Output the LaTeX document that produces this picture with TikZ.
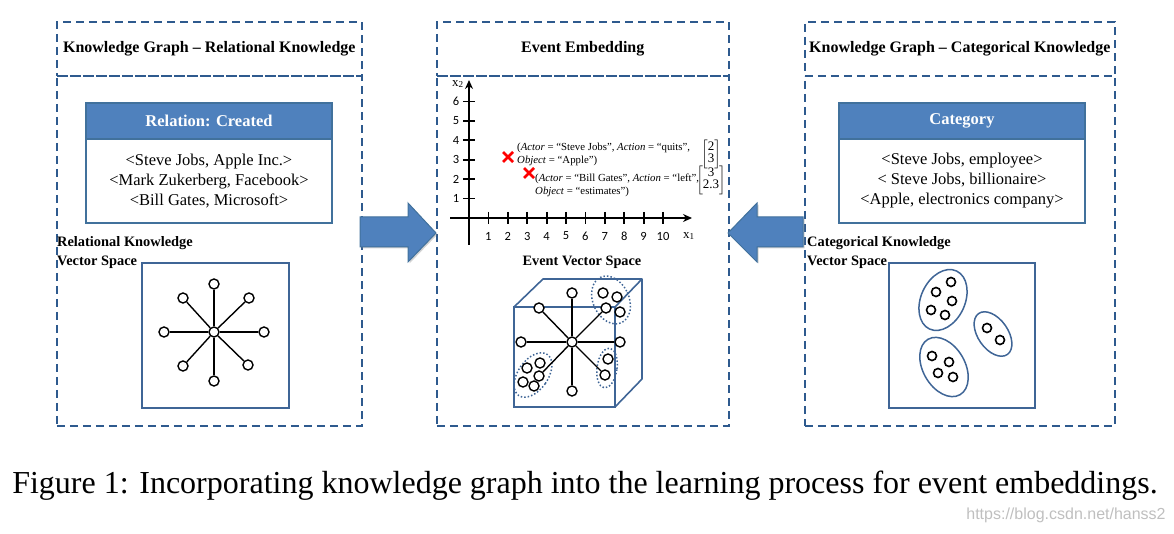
\documentclass[tikz,border=0pt]{standalone}
\usepackage{fontspec}
\setmainfont{Liberation Serif}
\newfontfamily\axisfont{Carlito}
\newfontfamily\wmfont{Liberation Sans}
\usepackage{amsmath}
\usetikzlibrary{shadows,arrows.meta}
\definecolor{dashblue}{HTML}{2E5A8E}
\definecolor{hdrblue}{HTML}{4F81BD}
\definecolor{hdrborder}{HTML}{41719C}
\definecolor{boxblue}{HTML}{3F6596}
\definecolor{crossred}{HTML}{FF0000}
\begin{document}
\begin{tikzpicture}[x=1pt,y=-1pt,
  panel/.style={draw=dashblue, dash pattern=on 8pt off 5pt, line width=1.6pt, inner sep=0pt, anchor=north west},
  paneltitle/.style={panel, font=\fontsize{16}{18}\selectfont\bfseries},
  hdr/.style={draw=hdrborder, fill=hdrblue, line width=1.2pt, minimum width=246, minimum height=36, inner sep=0pt, text=white, font=\fontsize{16.5}{18}\selectfont\bfseries},
  bodybox/.style={draw=hdrborder, fill=white, line width=1.2pt, minimum width=246, minimum height=84, inner sep=0pt, align=center, font=\fontsize{16.5}{20}\selectfont},
  sublabel/.style={anchor=north west, inner sep=0pt, align=left, font=\fontsize{14.4}{19}\selectfont\bfseries},
  vsquare/.style={draw=boxblue, line width=1.6pt},
  dot/.style={circle, draw=black, fill=white, line width=1.4pt, minimum size=10pt, inner sep=0pt},
  cdot/.style={circle, draw=black, fill=white, line width=1.6pt, minimum size=9pt, inner sep=0pt},
  spoke/.style={draw=black, line width=1.4pt},
  cluster/.style={draw=boxblue, line width=1.5pt, dotted},
  catell/.style={draw=boxblue, line width=1.5pt},
  axisline/.style={draw=black, line width=2pt, -{Stealth[length=9pt,width=8pt]}},
  tick/.style={draw=black, line width=1.8pt},
  ticklabel/.style={font=\axisfont\fontsize{12.5}{14}\selectfont, inner sep=0pt},
  cross/.style={draw=crossred, line width=2.6pt},
  annot/.style={anchor=west, inner sep=0pt, align=left, font=\fontsize{10.8}{13}\selectfont},
  vec/.style={inner sep=0pt, font=\fontsize{13}{14}\selectfont},
  bigarrow/.style={fill=hdrblue, draw=hdrborder, line width=1pt, drop shadow={shadow xshift=1.5pt, shadow yshift=-1.5pt, opacity=0.35}}
]
\useasboundingbox (0,0) rectangle (1174,534);

% ---------- panels ----------
\node[paneltitle, minimum width=305, minimum height=54] (lhead) at (56,21) {Knowledge Graph -- Relational Knowledge};
\node[panel, minimum width=305, minimum height=350] (lbody) at (56,75) {};
\node[paneltitle, minimum width=292, minimum height=54] (mhead) at (436,21) {Event Embedding};
\node[panel, minimum width=292, minimum height=350] (mbody) at (436,75) {};
\node[paneltitle, minimum width=310, minimum height=54] (rhead) at (804,21) {Knowledge Graph -- Categorical Knowledge};
\node[panel, minimum width=310, minimum height=350] (rbody) at (804,75) {};

% ---------- big arrows ----------
\path[bigarrow] (360,217) -- (408,217) -- (408,203) -- (436,233) -- (408,262) -- (408,247) -- (360,247) -- cycle;
\path[bigarrow] (803,217) -- (757,217) -- (757,203) -- (728,233) -- (757,262) -- (757,247) -- (803,247) -- cycle;

% ---------- left: relation box ----------
\node[hdr] (relhdr) at (209,121) {Relation: Created};
\node[bodybox] (relbody) at (209,181) {<Steve Jobs, Apple Inc.>\\<Mark Zukerberg, Facebook>\\<Bill Gates, Microsoft>};
\node[sublabel] (rellabel) at (57,236) {Relational Knowledge\\Vector Space};
\node[vsquare, minimum width=147, minimum height=145, inner sep=0pt, anchor=north west] (relsq) at (141,262) {};

% relational star
\node[dot] (r0) at (214,332) {};
\node[dot] (rN) at (214,284) {};
\node[dot] (rS) at (214,381) {};
\node[dot] (rW) at (164,332) {};
\node[dot] (rE) at (264,332) {};
\node[dot] (rNW) at (183,298) {};
\node[dot] (rNE) at (249,298) {};
\node[dot] (rSW) at (183,366) {};
\node[dot] (rSE) at (248,365) {};
\foreach \n in {rN,rS,rW,rE,rNW,rNE,rSW,rSE} {\draw[spoke] (r0) -- (\n);}

% ---------- middle: axes ----------
\coordinate (ybot) at (469,245);
\coordinate (ytop) at (469,80);
\coordinate (xleft) at (450,218);
\coordinate (xright) at (692,218);
\draw[axisline] (ybot) -- (ytop);
\draw[axisline] (xleft) -- (xright);
\foreach \i in {1,...,10} {
  \draw[tick] ({469+19.4*\i},212) -- ({469+19.4*\i},224);
  \node[ticklabel] (xl\i) at ({469+19.4*\i},236) {\i};
}
\foreach \j in {1,...,6} {
  \draw[tick] (463,{218-19.4*\j}) -- (475,{218-19.4*\j});
  \node[ticklabel] (yl\j) at (456,{218-19.4*\j}) {\j};
}
\node[font=\fontsize{13}{14}\selectfont, inner sep=0pt] (x2lab) at (458,84) {x\textsubscript{2}};
\node[font=\fontsize{13}{14}\selectfont, inner sep=0pt] (x1lab) at (689,236) {x\textsubscript{1}};

% crosses
\coordinate (p1) at (508,157);
\coordinate (p2) at (529,173);
\draw[cross] ([shift={(-5,-5)}]p1) -- ([shift={(5,5)}]p1) ([shift={(-5,5)}]p1) -- ([shift={(5,-5)}]p1);
\draw[cross] ([shift={(-5,-5)}]p2) -- ([shift={(5,5)}]p2) ([shift={(-5,5)}]p2) -- ([shift={(5,-5)}]p2);

\node[annot] (a1) at (517,154.5) {(\textit{Actor} = “Steve Jobs”, \textit{Action} = “quits”,\\\textit{Object} = “Apple”)};
\node[annot] (a2) at (535,185) {(\textit{Actor} = “Bill Gates”, \textit{Action} = “left”,\\\textit{Object} = “estimates”)};
\node[vec] (v1) at (711,154) {$\left[\begin{array}{@{}c@{}}\text{2}\\[-2pt]\text{3}\end{array}\right]$};
\node[vec] (v2) at (711,180) {$\left[\begin{array}{@{}c@{}}\text{3}\\[-2pt]\text{2.3}\end{array}\right]$};

\node[font=\fontsize{14.3}{16}\selectfont\bfseries, inner sep=0pt] (evlabel) at (582,262) {Event Vector Space};

% cube
\draw[vsquare] (514,307) rectangle (615,407);
\draw[vsquare, line join=round] (514,307) -- (543,279) -- (642,279) -- (615,307);
\draw[vsquare, line join=round] (642,279) -- (642,379) -- (615,407);

% clusters (dotted)
\draw[cluster, rotate around={25:(611,300)}] (611,300) ellipse [x radius=18, y radius=25];
\draw[cluster, rotate around={-35:(533,375)}] (533,375) ellipse [x radius=15, y radius=25];
\draw[cluster, rotate around={-8:(607,368)}] (607,368) ellipse [x radius=10, y radius=20];

% event star
\node[dot] (e0) at (572,342) {};
\node[dot] (eN) at (572,293) {};
\node[dot] (eS) at (572,391) {};
\node[dot] (eW) at (521,342) {};
\node[dot] (eE) at (620,342) {};
\node[dot] (eNW) at (539,308) {};
\node[dot] (eNE) at (606,308) {};
\node[dot] (eSW) at (539,376) {};
\node[dot] (eSE) at (605,375) {};
\foreach \n in {eN,eS,eW,eE,eNW,eNE,eSW,eSE} {\draw[spoke] (e0) -- (\n);}
\node[dot] (u1) at (603,293) {};
\node[dot] (u2) at (617,297) {};
\node[dot] (u3) at (620,312) {};
\node[dot] (l1) at (540,363) {};
\node[dot] (l2) at (527,368) {};
\node[dot] (l3) at (523,382) {};
\node[dot] (l4) at (534,386) {};
\node[dot] (m1) at (608,359) {};

% ---------- right: category box ----------
\node[hdr] (cathdr) at (962,121) {Category};
\node[bodybox] (catbody) at (962,181) {<Steve Jobs, employee>\\< Steve Jobs, billionaire>\\<Apple, electronics company>};
\node[sublabel] (catlabel) at (807,236) {Categorical Knowledge\\Vector Space};
\node[vsquare, minimum width=146, minimum height=145, inner sep=0pt, anchor=north west] (catsq) at (888,262) {};

\draw[catell, rotate around={-25:(943,300)}] (943,300) ellipse [x radius=22, y radius=32];
\draw[catell, rotate around={35:(993,334)}] (993,334) ellipse [x radius=15, y radius=25];
\draw[catell, rotate around={30:(944,367)}] (944,367) ellipse [x radius=21, y radius=32];

\node[cdot] (c1) at (951,282) {};
\node[cdot] (c2) at (936,292) {};
\node[cdot] (c3) at (952,301) {};
\node[cdot] (c4) at (931,310) {};
\node[cdot] (c5) at (945,315) {};
\node[cdot] (c6) at (987,328) {};
\node[cdot] (c7) at (1000,340) {};
\node[cdot] (c8) at (932,356) {};
\node[cdot] (c9) at (949,362) {};
\node[cdot] (c10) at (938,373) {};
\node[cdot] (c11) at (953,377) {};

% ---------- caption ----------
\node[font=\fontsize{32}{36}\selectfont, inner sep=0pt] (caption) at (585,486) {Figure 1: Incorporating knowledge graph into the learning process for event embeddings.};
\node[font=\wmfont\fontsize{16}{18}\selectfont, text=black!25, inner sep=0pt] (wm) at (1066,515) {https://blog.csdn.net/hanss2};
\end{tikzpicture}
\end{document}
